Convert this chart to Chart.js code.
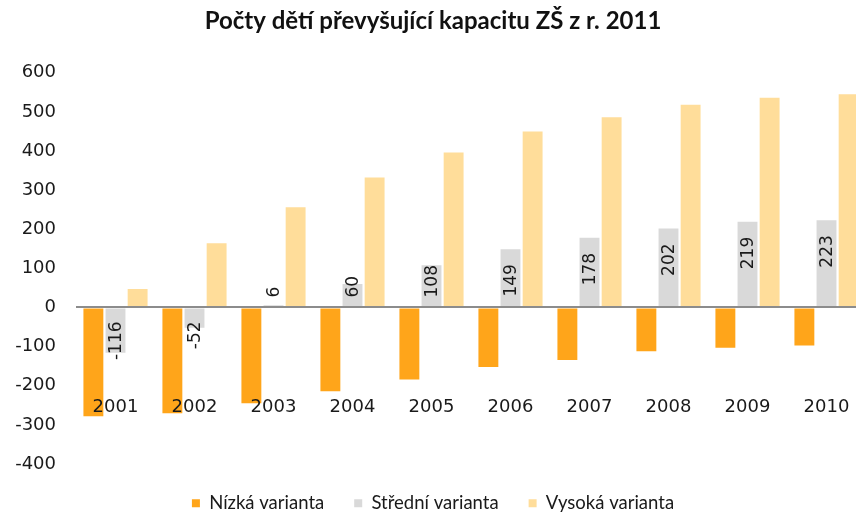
<!DOCTYPE html>
<html>
<head>
<meta charset="utf-8">
<script src="https://cdn.jsdelivr.net/npm/chart.js@4.4.1/dist/chart.umd.min.js"></script>
<style>
  html, body { margin: 0; padding: 0; background: #ffffff; overflow: hidden; }
  #wrap { position: relative; width: 866px; height: 518px; }
</style>
</head>
<body>
<div id="wrap"><canvas id="c" width="866" height="518"></canvas></div>
<script>
const title = 'Počty dětí převyšující kapacitu ZŠ z r. 2011';
const years = ['2001', '2002', '2003', '2004', '2005', '2006', '2007', '2008', '2009', '2010'];
const seriesNames = ['Nízká varianta', 'Střední varianta', 'Vysoká varianta'];
const nizka = [-278, -270, -245, -214, -184, -152, -134, -112, -103, -97];
const stredni = [-116, -52, 6, 60, 108, 149, 178, 202, 219, 223];
const vysoka = [47, 164, 256, 332, 396, 450, 486, 518, 536, 545];
const yTicks = { min: -400, max: 600, step: 100 };

const colors = ['#FFA51A', '#D9D9D9', '#FFDD9A'];

const rotatedLabels = {
  id: 'rotatedLabels',
  afterDatasetsDraw(chart) {
    const meta = chart.getDatasetMeta(1);
    const zero = chart.scales.y.getPixelForValue(0);
    const ctx = chart.ctx;
    ctx.save();
    ctx.font = '17px "DejaVu Sans"';
    ctx.fillStyle = '#1a1a1a';
    ctx.textBaseline = 'middle';
    meta.data.forEach((bar, i) => {
      const v = stredni[i];
      const txt = String(v);
      const len = ctx.measureText(txt).width;
      let bottomY;
      if (v >= 0) {
        bottomY = Math.min(bar.y + 15 + len, zero - 10);
      } else {
        const topY = Math.max(zero + 14, bar.y - 15 - len);
        bottomY = topY + len;
      }
      ctx.save();
      ctx.translate(bar.x + 1, bottomY);
      ctx.rotate(-Math.PI / 2);
      ctx.textAlign = 'left';
      ctx.fillText(txt, 0, 0);
      ctx.restore();
    });
    ctx.restore();
  }
};

new Chart(document.getElementById('c'), {
  type: 'bar',
  data: {
    labels: years,
    datasets: [
      { label: seriesNames[0], data: nizka, backgroundColor: colors[0] },
      { label: seriesNames[1], data: stredni, backgroundColor: colors[1] },
      { label: seriesNames[2], data: vysoka, backgroundColor: colors[2] }
    ]
  },
  options: {
    responsive: false,
    animation: false,
    devicePixelRatio: 1,
    layout: { padding: { left: 0, right: 0, top: 0, bottom: -4.5 } },
    datasets: { bar: { categoryPercentage: 0.84, barPercentage: 0.9 } },
    scales: {
      x: {
        position: { y: -207 },
        grid: { display: false },
        border: { display: false },
        ticks: {
          z: 2,
          padding: 0,
          color: '#1a1a1a',
          font: { family: '"DejaVu Sans"', size: 18 },
          maxRotation: 0
        }
      },
      y: {
        min: yTicks.min,
        max: yTicks.max,
        afterFit(scale) { scale.width = 76; },
        ticks: {
          stepSize: yTicks.step,
          padding: 20,
          color: '#1a1a1a',
          font: { family: '"DejaVu Sans"', size: 18 }
        },
        grid: {
          z: 1,
          drawTicks: false,
          color: (c) => (c.tick && c.tick.value === 0 ? '#8c8c8c' : 'rgba(0,0,0,0)'),
          lineWidth: 2
        },
        border: { display: false }
      }
    },
    plugins: {
      title: {
        display: true,
        text: title,
        color: '#111111',
        font: { family: 'Lato', size: 24, weight: 'bold' },
        padding: { top: 6.6, bottom: 37.3 }
      },
      legend: {
        position: 'bottom',
        labels: {
          boxWidth: 8,
          boxHeight: 8,
          padding: 30,
          color: '#1a1a1a',
          font: { family: 'Lato', size: 18.5 }
        }
      },
      tooltip: { enabled: false }
    }
  },
  plugins: [rotatedLabels]
});
</script>
</body>
</html>
